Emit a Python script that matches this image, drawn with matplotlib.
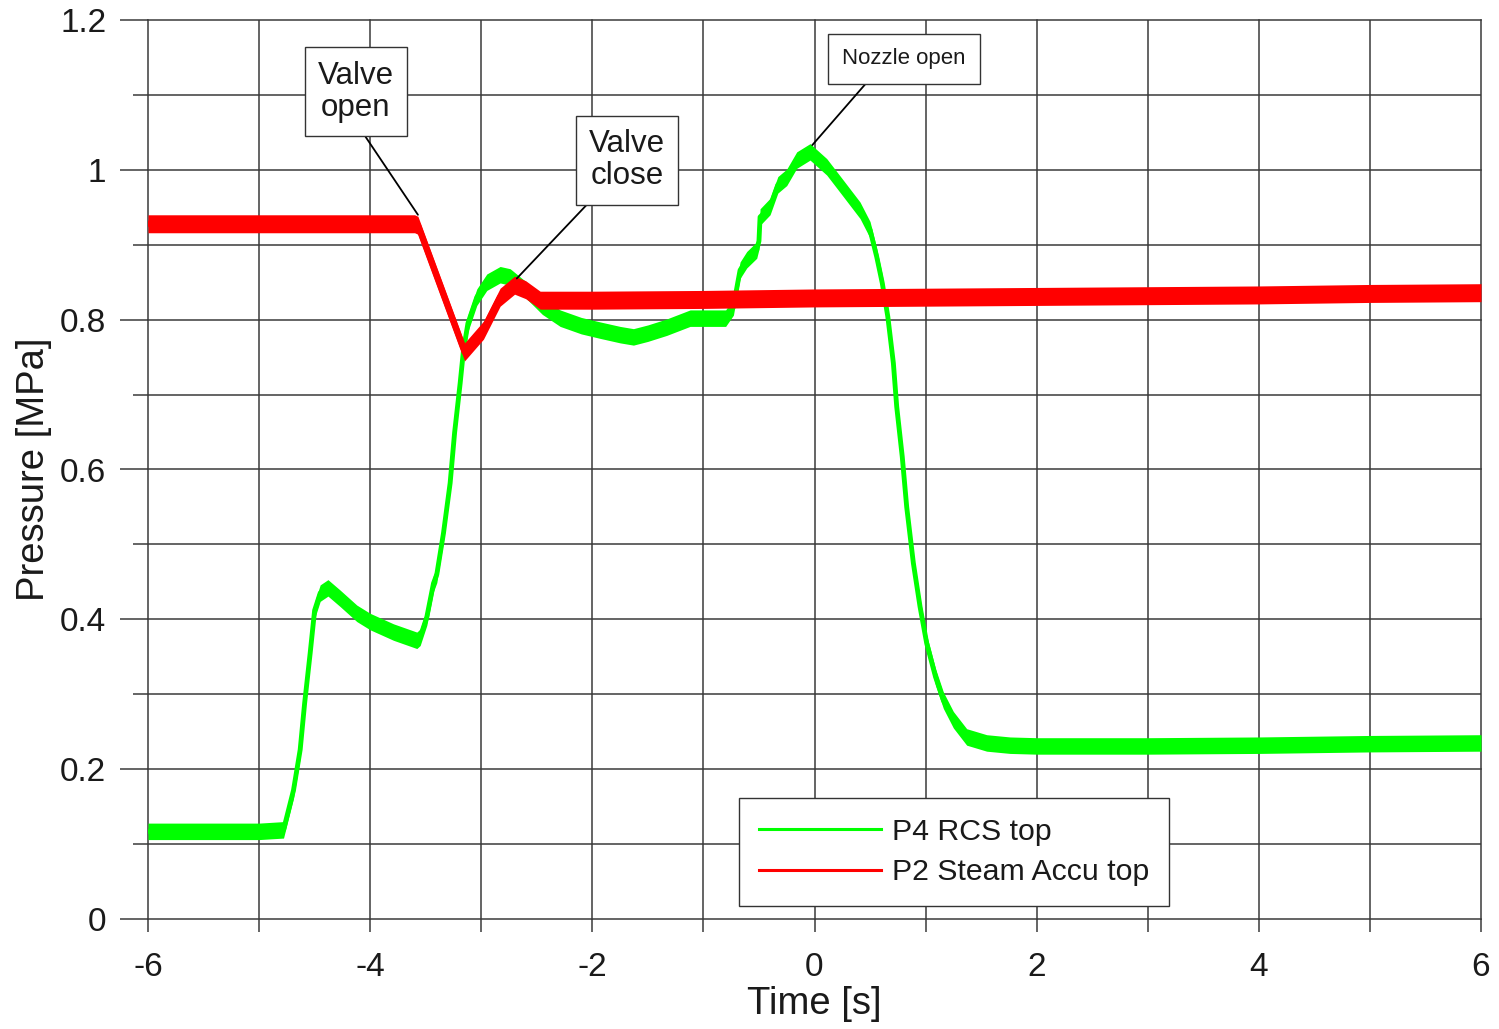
import matplotlib
matplotlib.use("Agg")
import matplotlib.pyplot as plt
from matplotlib.lines import Line2D
from matplotlib.ticker import MultipleLocator
import numpy as np

plt.rcParams['font.family'] = ['Liberation Sans', 'DejaVu Sans']
plt.rcParams['axes.unicode_minus'] = False

# ---------------- data ----------------
green_label = "P4 RCS top"
green_t = [-6.0, -5.5, -5.0, -4.78, -4.69, -4.63, -4.59, -4.54, -4.50, -4.45,
           -4.38, -4.27, -4.12, -4.00, -3.79, -3.58, -3.55, -3.49, -3.43, -3.40,
           -3.34, -3.28, -3.24, -3.19, -3.16, -3.12, -3.04, -2.95, -2.83, -2.74,
           -2.60, -2.45, -2.29, -2.10, -1.93, -1.75, -1.63, -1.50, -1.33, -1.12,
           -0.95, -0.80, -0.73, -0.69, -0.67, -0.61, -0.52, -0.50, -0.49, -0.40,
           -0.33, -0.25, -0.16, -0.04, 0.11, 0.25, 0.41, 0.50, 0.56, 0.61,
           0.66, 0.71, 0.74, 0.79, 0.83, 0.89, 0.95, 1.01, 1.09, 1.16,
           1.25, 1.37, 1.55, 1.76, 2.0, 3.0, 4.0, 5.0, 6.0]
green_p = [0.117, 0.117, 0.117, 0.119, 0.172, 0.226, 0.288, 0.355, 0.412, 0.435,
           0.442, 0.428, 0.408, 0.397, 0.383, 0.372, 0.376, 0.403, 0.448, 0.460,
           0.515, 0.582, 0.649, 0.715, 0.759, 0.795, 0.830, 0.850, 0.860, 0.857,
           0.840, 0.818, 0.802, 0.792, 0.786, 0.780, 0.777, 0.782, 0.790, 0.802,
           0.802, 0.802, 0.817, 0.850, 0.866, 0.880, 0.893, 0.905, 0.937, 0.951,
           0.980, 0.990, 1.013, 1.024, 1.004, 0.977, 0.946, 0.920, 0.884, 0.849,
           0.804, 0.742, 0.684, 0.617, 0.550, 0.475, 0.417, 0.368, 0.323, 0.292,
           0.266, 0.243, 0.235, 0.232, 0.231, 0.231, 0.232, 0.234, 0.235]
green_noise = 0.011

red_label = "P2 Steam Accu top"
red_t = [-6.0, -5.0, -4.0, -3.60, -3.57, -3.15, -2.98, -2.83, -2.70, -2.60,
         -2.47, -2.0, -1.0, 0.0, 1.0, 2.0, 3.0, 4.0, 5.0, 6.0]
red_p = [0.928, 0.928, 0.928, 0.928, 0.926, 0.757, 0.786, 0.830, 0.846, 0.840,
         0.826, 0.826, 0.827, 0.829, 0.830, 0.831, 0.832, 0.833, 0.835, 0.836]
red_noise = 0.012

ann_texts = ["Valve\nopen", "Valve\nclose", "Nozzle open"]
ann_point_t = [-3.57, -2.68, -0.02]
ann_point_p = [0.940, 0.855, 1.033]
ann_box_t = [-4.13, -1.69, 0.806]
ann_box_p = [1.104, 1.013, 1.148]

x_ticks = [-6, -4, -2, 0, 2, 4, 6]
y_ticks = [0, 0.2, 0.4, 0.6, 0.8, 1.0, 1.2]
y_tick_labels = ["0", "0.2", "0.4", "0.6", "0.8", "1", "1.2"]

# ---------------- figure ----------------
W, H = 1499, 1029
fig = plt.figure(figsize=(W / 100, H / 100), dpi=100)
ax = fig.add_axes([148 / W, (H - 919) / H, (1481 - 148) / W, (919 - 20) / H])

GREEN = "#00ff00"
RED = "#ff0000"
GRID = "#3a3a3a"
TXT = "#1a1a1a"

gt = np.array(green_t); gp = np.array(green_p)
rt = np.array(red_t); rp = np.array(red_p)

ax.fill_between(gt, gp - green_noise, gp + green_noise, color=GREEN, lw=0, zorder=3)
ax.plot(gt, gp, color=GREEN, lw=3.5, zorder=3, solid_joinstyle='round')
ax.fill_between(rt, rp - red_noise, rp + red_noise, color=RED, lw=0, zorder=4)
ax.plot(rt, rp, color=RED, lw=4.5, zorder=4, solid_joinstyle='round')

ax.set_xlim(-6, 6)
ax.set_ylim(0, 1.2)
ax.set_xticks(x_ticks)
ax.set_yticks(y_ticks)
ax.set_yticklabels(y_tick_labels)
ax.xaxis.set_minor_locator(MultipleLocator(1))
ax.yaxis.set_minor_locator(MultipleLocator(0.1))

for s in ax.spines.values():
    s.set_visible(False)

ax.set_axisbelow(True)
ax.grid(True, which='both', color=GRID, lw=1.1)
ax.tick_params(axis='y', which='major', length=20, width=1.1, color=GRID,
               labelsize=24, pad=10, labelcolor=TXT)
ax.tick_params(axis='y', which='minor', length=10.5, width=1.1, color=GRID)
ax.tick_params(axis='x', which='both', length=9, width=1.1, color=GRID,
               labelsize=24, pad=15, labelcolor=TXT)

for gl in ax.get_xgridlines() + ax.get_ygridlines():
    gl.set_clip_on(False)

ax.set_xlabel("Time [s]", fontsize=27.5, color=TXT)
ax.set_ylabel("Pressure [MPa]", fontsize=27.5, color=TXT)
ax.xaxis.set_label_coords(0.5, -0.075)
ax.yaxis.set_label_coords(-0.072, 0.5)

relposes = [(0.51, 0.0), (0.14, 0.0), (0.29, 0.0)]
sizes = [22.5, 22.5, 16]
pads = [0.42, 0.42, 0.65]
for txt, pt, pp, bt, bp, rel, fs, pd in zip(ann_texts, ann_point_t, ann_point_p,
                                            ann_box_t, ann_box_p, relposes, sizes, pads):
    ax.annotate(txt, xy=(pt, pp), xytext=(bt, bp), ha='center', va='center',
                fontsize=fs, color=TXT, linespacing=1.12, zorder=6,
                bbox=dict(boxstyle=f'square,pad={pd}', fc='white', ec='#333333', lw=1.0),
                arrowprops=dict(arrowstyle='-', color='black', lw=1.3,
                                shrinkA=0, shrinkB=0, relpos=rel))

handles = [Line2D([], [], color=GREEN, lw=2.2), Line2D([], [], color=RED, lw=2.2)]
leg = ax.legend(handles, [green_label, red_label], loc='upper left',
                bbox_to_anchor=((739 - 148) / 1333, (919 - 798) / 899),
                borderaxespad=0, fontsize=21.8, handlelength=4.05,
                handletextpad=0.35, labelspacing=0.42, borderpad=0.65,
                fancybox=False, framealpha=1, edgecolor='#333333')
leg.get_frame().set_linewidth(1.0)
leg.set_zorder(7)
for t in leg.get_texts():
    t.set_color(TXT)

fig.savefig("out.png", dpi=100)
